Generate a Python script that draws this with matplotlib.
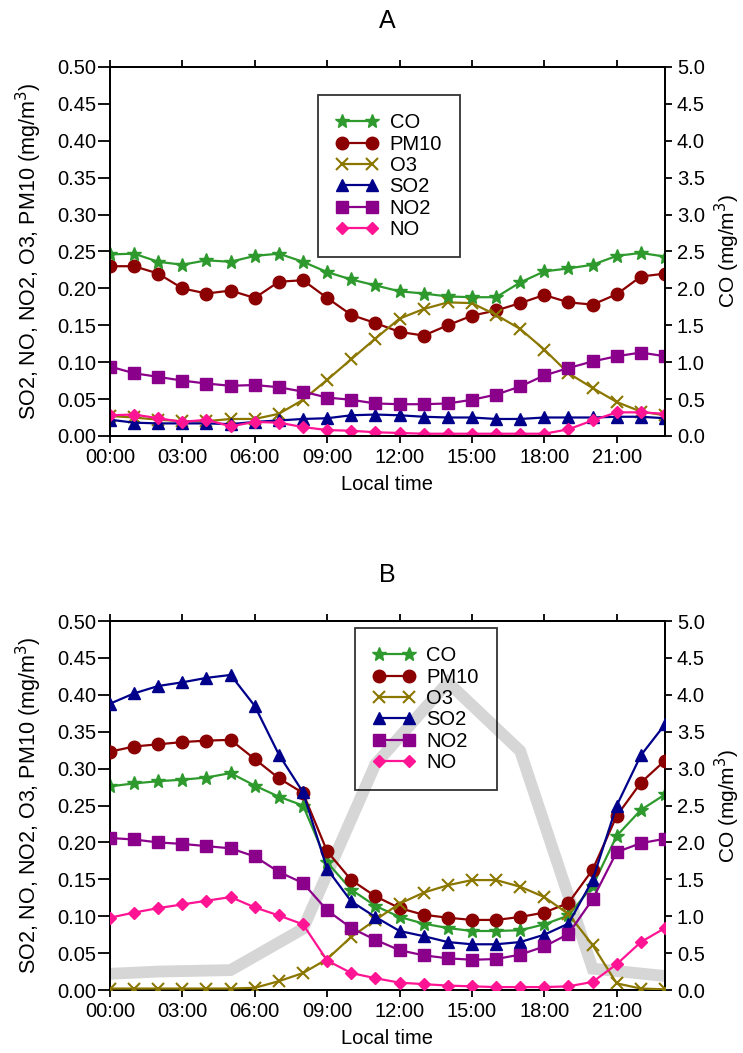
import numpy as np
import matplotlib
matplotlib.use('Agg')
from matplotlib import pyplot as plt

plt.rcParams['font.family'] = ['Liberation Sans', 'DejaVu Sans']

hours = np.arange(24)
xticks = [0, 3, 6, 9, 12, 15, 18, 21]
xticklabels = ['00:00', '03:00', '06:00', '09:00', '12:00', '15:00', '18:00', '21:00']

# Panel A (mg/m3); CO read on the right axis
co_a = [2.46, 2.47, 2.36, 2.32, 2.38, 2.36, 2.44, 2.47, 2.36, 2.22, 2.12, 2.04,
        1.96, 1.93, 1.89, 1.88, 1.88, 2.08, 2.23, 2.27, 2.32, 2.44, 2.48, 2.43]
pm10_a = [0.230, 0.230, 0.220, 0.200, 0.193, 0.197, 0.187, 0.209, 0.211, 0.187, 0.164, 0.153,
          0.141, 0.136, 0.150, 0.163, 0.170, 0.180, 0.191, 0.181, 0.178, 0.192, 0.216, 0.220]
o3_a = [0.027, 0.025, 0.022, 0.020, 0.020, 0.023, 0.023, 0.030, 0.049, 0.076, 0.104, 0.132,
        0.159, 0.172, 0.181, 0.180, 0.164, 0.145, 0.117, 0.085, 0.065, 0.046, 0.033, 0.028]
so2_a = [0.022, 0.018, 0.017, 0.017, 0.017, 0.016, 0.019, 0.021, 0.023, 0.024, 0.028, 0.029,
         0.028, 0.026, 0.025, 0.025, 0.023, 0.023, 0.025, 0.025, 0.025, 0.026, 0.026, 0.024]
no2_a = [0.094, 0.085, 0.080, 0.075, 0.071, 0.068, 0.069, 0.066, 0.060, 0.052, 0.049, 0.044,
         0.043, 0.043, 0.044, 0.049, 0.056, 0.067, 0.082, 0.092, 0.101, 0.108, 0.113, 0.108]
no_a = [0.028, 0.029, 0.024, 0.019, 0.022, 0.013, 0.019, 0.018, 0.012, 0.008, 0.007, 0.005,
        0.004, 0.003, 0.003, 0.003, 0.003, 0.003, 0.003, 0.009, 0.021, 0.032, 0.032, 0.030]

# Panel B
co_b = [2.76, 2.80, 2.83, 2.85, 2.88, 2.94, 2.77, 2.62, 2.50, 1.73, 1.36, 1.14,
        0.99, 0.90, 0.84, 0.80, 0.80, 0.81, 0.89, 1.01, 1.41, 2.09, 2.44, 2.65]
pm10_b = [0.323, 0.330, 0.333, 0.336, 0.338, 0.339, 0.313, 0.287, 0.267, 0.188, 0.149, 0.127,
          0.111, 0.102, 0.098, 0.095, 0.095, 0.099, 0.105, 0.118, 0.163, 0.236, 0.281, 0.311]
o3_b = [0.002, 0.002, 0.002, 0.002, 0.002, 0.002, 0.003, 0.012, 0.023, 0.042, 0.072, 0.095,
        0.117, 0.132, 0.142, 0.149, 0.149, 0.140, 0.126, 0.103, 0.061, 0.009, 0.002, 0.001]
so2_b = [0.388, 0.402, 0.412, 0.417, 0.423, 0.427, 0.385, 0.319, 0.268, 0.164, 0.120, 0.099,
         0.080, 0.073, 0.065, 0.062, 0.062, 0.065, 0.075, 0.090, 0.149, 0.250, 0.318, 0.360]
no2_b = [0.206, 0.204, 0.200, 0.198, 0.195, 0.192, 0.181, 0.160, 0.145, 0.108, 0.084, 0.068,
         0.054, 0.047, 0.043, 0.041, 0.042, 0.048, 0.059, 0.076, 0.123, 0.187, 0.199, 0.205]
no_b = [0.098, 0.105, 0.111, 0.116, 0.121, 0.126, 0.112, 0.101, 0.089, 0.040, 0.023, 0.016,
        0.010, 0.008, 0.006, 0.005, 0.004, 0.004, 0.004, 0.005, 0.011, 0.035, 0.065, 0.084]

# grey background curve in panel B (3-hourly)
grey_hours = [0, 2, 5, 8, 11, 14, 17, 20, 23]
grey_b = [0.022, 0.025, 0.027, 0.083, 0.306, 0.417, 0.324, 0.029, 0.019]

colors = {'CO': '#2e9a2e', 'PM10': '#8b0000', 'O3': '#8b7700',
          'SO2': '#00008b', 'NO2': '#8b008b', 'NO': '#ff1493'}
styles = {'CO': dict(marker='*', ms=10),
          'PM10': dict(marker='o', ms=9),
          'O3': dict(marker='x', ms=8, mew=1.5),
          'SO2': dict(marker='^', ms=9),
          'NO2': dict(marker='s', ms=8),
          'NO': dict(marker='D', ms=6)}


def panel(ax, title, co, pm10, o3, so2, no2, no, legend_xy, grey=None):
    ax2 = ax.twinx()
    series = [('PM10', pm10), ('O3', o3), ('SO2', so2), ('NO2', no2), ('NO', no)]
    handles = {}
    for name, vals in series:
        h, = ax.plot(hours, vals, color=colors[name], lw=1.6, zorder=3,
                     label=name, **styles[name])
        handles[name] = h
    h, = ax2.plot(hours, co, color=colors['CO'], lw=1.6, label='CO', **styles['CO'])
    handles['CO'] = h

    ax.set_xlim(0, 23)
    ax.set_ylim(0, 0.5)
    ax2.set_ylim(0, 5.0)
    ax.set_yticks(np.arange(0, 0.501, 0.05))
    ax.set_yticklabels(['%.2f' % v for v in np.arange(0, 0.501, 0.05)])
    ax2.set_yticks(np.arange(0, 5.01, 0.5))
    ax2.set_yticklabels(['%.1f' % v for v in np.arange(0, 5.01, 0.5)])
    ax.set_xticks(xticks)
    ax.set_xticklabels(xticklabels)
    ax.tick_params(axis='x', direction='out', length=5, width=1.3,
                   labelsize=14.5, top=True)
    ax.tick_params(axis='y', direction='out', length=8.5, width=1.3,
                   labelsize=14.5, pad=1.5)
    ax2.tick_params(axis='y', direction='out', length=5, width=1.3, labelsize=14.5)
    for a in (ax, ax2):
        for s in a.spines.values():
            s.set_linewidth(1.3)
    ax.set_xlabel('Local time', fontsize=14.5, labelpad=6)
    ax.set_ylabel('SO2, NO, NO2, O3, PM10 (mg/m$^3$)', fontsize=15.5, labelpad=9)
    ax2.set_ylabel('CO (mg/m$^3$)', fontsize=15, labelpad=6)
    ax.set_title(title, fontsize=18, pad=28)

    order = ['CO', 'PM10', 'O3', 'SO2', 'NO2', 'NO']
    leg = ax2.legend([handles[k] for k in order], order, loc='upper left',
                     bbox_to_anchor=legend_xy, fontsize=14.5, numpoints=2,
                     fancybox=False, facecolor='none', edgecolor='black',
                     handlelength=2.1, handletextpad=0.55, labelspacing=0.12,
                     borderpad=0.9, borderaxespad=0)
    leg.get_frame().set_linewidth(1.3)
    if grey is not None:
        # grey curve shows through the transparent legend, as in the original
        ax2.plot(grey_hours, [g * 10 for g in grey], color='#d6d6d6', lw=8.5,
                 zorder=1, solid_joinstyle='miter')
        ax2.set_zorder(ax.get_zorder() - 1)
        ax.patch.set_visible(False)
        ax2.patch.set_visible(True)
        ax2.patch.set_facecolor('white')
    return ax2


fig = plt.figure(figsize=(7.43, 10.53), dpi=100)
axA = fig.add_axes([0.148, 0.586, 0.747, 0.3504])
axB = fig.add_axes([0.148, 0.0598, 0.747, 0.3504])

panel(axA, 'A', co_a, pm10_a, o3_a, so2_a, no2_a, no_a, (0.375, 0.924))
panel(axB, 'B', co_b, pm10_b, o3_b, so2_b, no2_b, no_b, (0.441, 0.981), grey=grey_b)

fig.savefig('out.png', dpi=100)
